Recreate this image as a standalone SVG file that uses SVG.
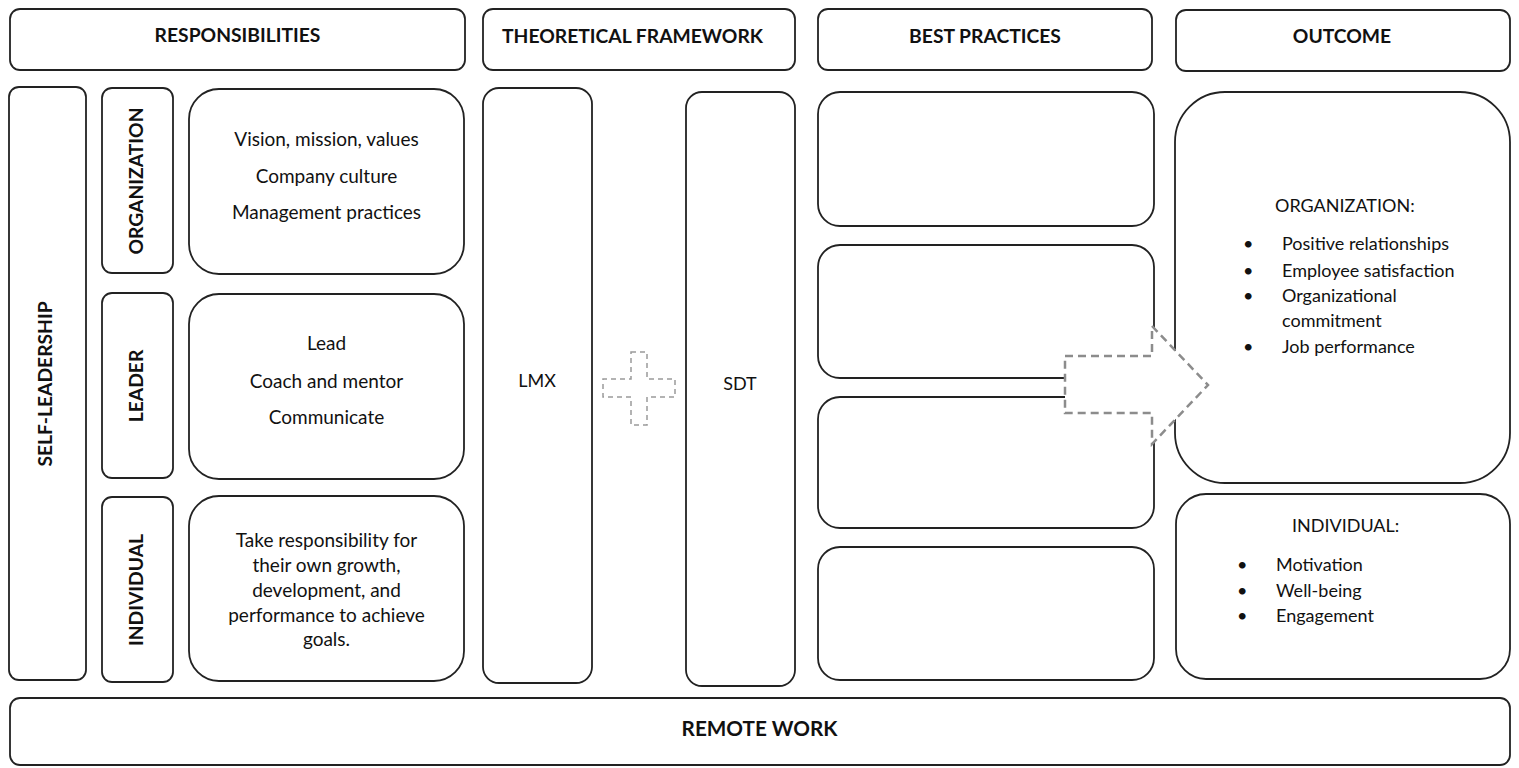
<svg xmlns="http://www.w3.org/2000/svg" width="1519" height="768" viewBox="0 0 1519 768">
<style>
.box{fill:#fff;stroke:#222;stroke-width:1.8}
.h{font-family:Lato,"Liberation Sans",sans-serif;font-weight:bold;font-size:19.3px;fill:#111}
.t{font-family:Lato,"Liberation Sans",sans-serif;font-size:19px;fill:#111}
.o{font-family:Lato,"Liberation Sans",sans-serif;font-size:18px;fill:#111}
.c{text-anchor:middle}
.dash{fill:#fff;stroke:#8c8c8c;stroke-width:2.5;stroke-dasharray:8 5}
.plus{fill:none;stroke:#9a9a9a;stroke-width:1.5;stroke-dasharray:5 4}
</style>
<rect width="1519" height="768" fill="#fff"/>
<g id="hdr-responsibilities"><rect class="box" x="10" y="9" width="455" height="61" rx="10"/><text class="h c" x="237.5" y="42">RESPONSIBILITIES</text></g>
<g id="hdr-theory"><rect class="box" x="483" y="9" width="312" height="61" rx="10"/><text class="h" x="502" y="43">THEORETICAL FRAMEWORK</text></g>
<g id="hdr-best"><rect class="box" x="818" y="9" width="334" height="61" rx="10"/><text class="h c" x="985" y="43">BEST PRACTICES</text></g>
<g id="hdr-outcome"><rect class="box" x="1176" y="10" width="334" height="61" rx="10"/><text class="h c" x="1342" y="43">OUTCOME</text></g>

<g id="self-leadership"><rect class="box" x="9" y="87" width="77" height="593" rx="10"/><text class="h c" transform="translate(52,384) rotate(-90)">SELF-LEADERSHIP</text></g>
<g id="lbl-organization"><rect class="box" x="102" y="88" width="71" height="185" rx="10"/><text class="h c" transform="translate(143,181) rotate(-90)">ORGANIZATION</text></g>
<g id="resp-organization"><rect class="box" x="189" y="89" width="275" height="185" rx="30"/>
<text class="t c" x="326.5" y="146">Vision, mission, values</text>
<text class="t c" x="326.5" y="183">Company culture</text>
<text class="t c" x="326.5" y="219">Management practices</text></g>
<g id="lbl-leader"><rect class="box" x="102" y="293" width="71" height="185" rx="10"/><text class="h c" transform="translate(143,386) rotate(-90)">LEADER</text></g>
<g id="resp-leader"><rect class="box" x="189" y="294" width="275" height="185" rx="30"/>
<text class="t c" x="326.5" y="350">Lead</text>
<text class="t c" x="326.5" y="388">Coach and mentor</text>
<text class="t c" x="326.5" y="424">Communicate</text></g>
<g id="lbl-individual"><rect class="box" x="102" y="497" width="71" height="185" rx="10"/><text class="h c" transform="translate(143,590) rotate(-90)">INDIVIDUAL</text></g>
<g id="resp-individual"><rect class="box" x="189" y="496" width="275" height="185" rx="30"/>
<text class="t c" x="326.5" y="547">Take responsibility for</text>
<text class="t c" x="326.5" y="572">their own growth,</text>
<text class="t c" x="326.5" y="597">development, and</text>
<text class="t c" x="326.5" y="622">performance to achieve</text>
<text class="t c" x="326.5" y="646">goals.</text></g>

<g id="lmx"><rect class="box" x="483" y="88" width="109" height="595" rx="16"/><text class="o c" x="537" y="387">LMX</text></g>
<g id="plus"><path class="plus" d="M631,352 H647 V379 H675 V397 H647 V425 H631 V397 H603 V379 H631 Z"/></g>
<g id="sdt"><rect class="box" x="686" y="92" width="109" height="594" rx="16"/><text class="o c" x="740" y="390">SDT</text></g>

<g id="bp1"><rect class="box" x="818" y="92" width="336" height="134" rx="22"/></g>
<g id="bp2"><rect class="box" x="818" y="245" width="336" height="133" rx="22"/></g>
<g id="bp3"><rect class="box" x="818" y="397" width="336" height="131" rx="22"/></g>
<g id="bp4"><rect class="box" x="818" y="547" width="336" height="133" rx="22"/></g>

<g id="outcome-organization"><rect class="box" x="1175" y="92" width="335" height="391" rx="50"/>
<text class="o" x="1275" y="212">ORGANIZATION:</text>
<g class="o"><text x="1243" y="250">•</text><text x="1282" y="250">Positive relationships</text>
<text x="1243" y="277">•</text><text x="1282" y="277">Employee satisfaction</text>
<text x="1243" y="302">•</text><text x="1282" y="302">Organizational</text>
<text x="1282" y="327">commitment</text>
<text x="1243" y="353">•</text><text x="1282" y="353">Job performance</text></g></g>
<g id="outcome-individual"><rect class="box" x="1176" y="494" width="334" height="185" rx="30"/>
<text class="o" x="1292" y="532">INDIVIDUAL:</text>
<g class="o"><text x="1237" y="571">•</text><text x="1276" y="571">Motivation</text>
<text x="1237" y="597">•</text><text x="1276" y="597">Well-being</text>
<text x="1237" y="622">•</text><text x="1276" y="622">Engagement</text></g></g>

<g id="remote-work"><rect class="box" x="10" y="698" width="1500" height="67" rx="10"/><text class="h c" x="759.5" y="736" style="font-size:20.7px">REMOTE WORK</text></g>

<g id="connectors"><path class="dash" d="M1065,356 H1152 V326 L1208,385 L1152,444 V413 H1065 Z"/></g>
</svg>
